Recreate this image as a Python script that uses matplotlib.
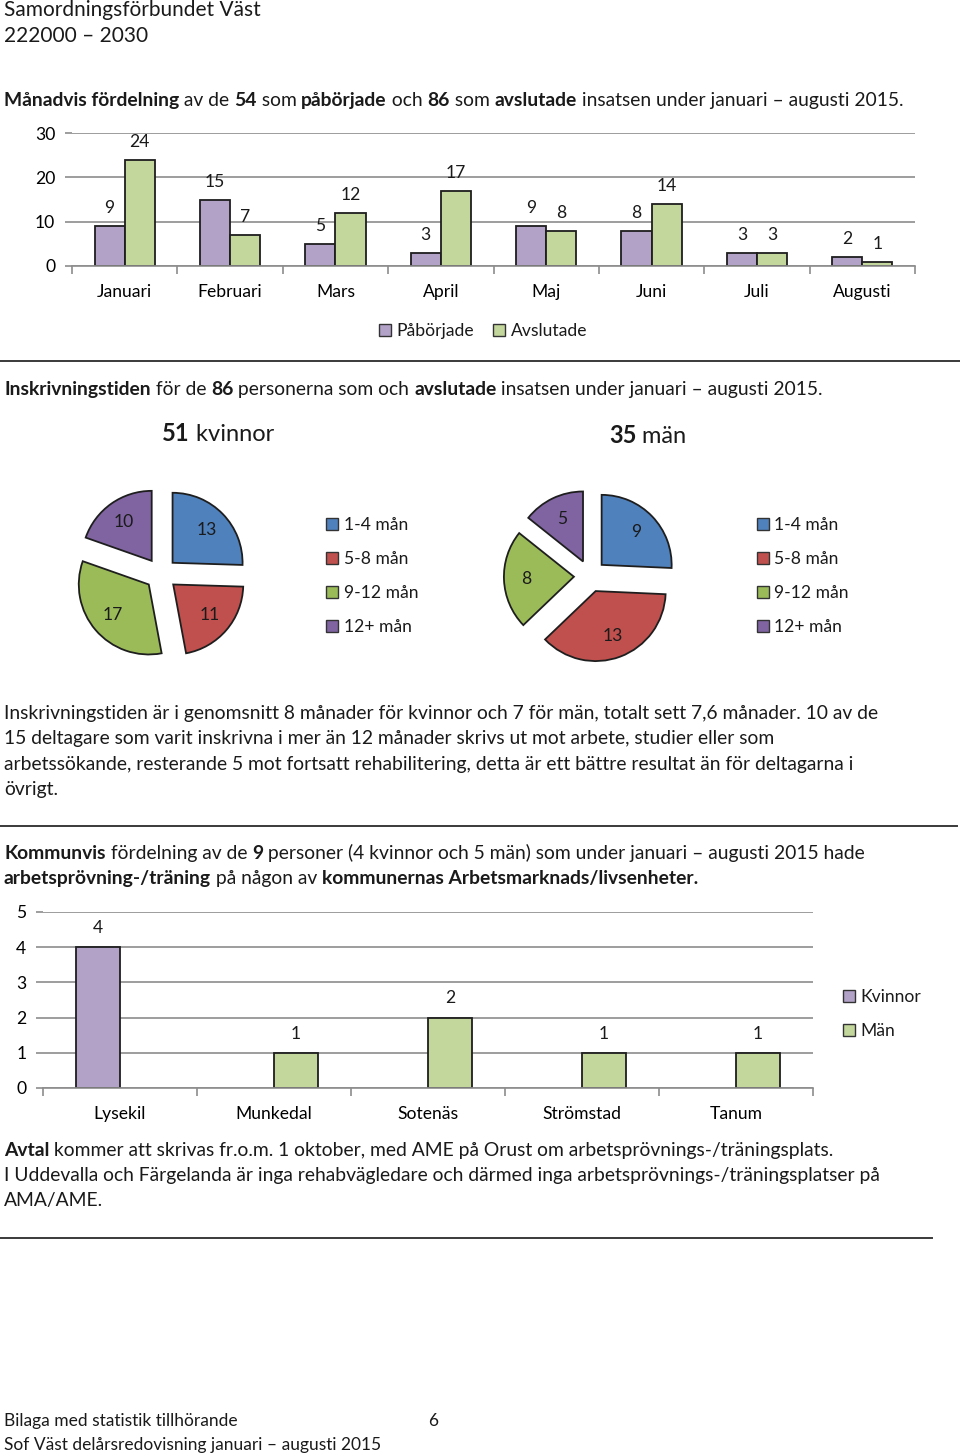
import numpy as np
import matplotlib
matplotlib.use('Agg')
import matplotlib.pyplot as plt
from matplotlib.patches import Patch
from matplotlib.lines import Line2D

plt.rcParams['font.family'] = ['Lato', 'DejaVu Sans']
plt.rcParams['text.color'] = '#1a1a1a'

# --- data ---
months = ['Januari', 'Februari', 'Mars', 'April', 'Maj', 'Juni', 'Juli', 'Augusti']
paborjade = [9, 15, 5, 3, 9, 8, 3, 2]
avslutade = [24, 7, 12, 17, 8, 14, 3, 1]

tid_labels = ['1-4 mån', '5-8 mån', '9-12 mån', '12+ mån']
tid_kvinnor = [13, 11, 17, 10]
tid_man = [9, 13, 8, 5]

kommuner = ['Lysekil', 'Munkedal', 'Sotenäs', 'Strömstad', 'Tanum']
kom_kvinnor = [4, 0, 0, 0, 0]
kom_man = [0, 1, 2, 1, 1]

PURPLE_L = '#b3a2c7'
GREEN_L = '#c3d69b'
PIE_COLS = ['#4f81bd', '#c0504d', '#9bbb59', '#8064a2']
GRID = '#8c8c8c'
EDGE = '#1e1e1e'
FS = 12.6      # chart text
BODY = 13.9    # paragraph text

W, H = 960, 1455
fig = plt.figure(figsize=(W / 100, H / 100), dpi=100)
renderer = fig.canvas.get_renderer()


def box(l, t, r, b):
    return [l / W, 1 - b / H, (r - l) / W, (b - t) / H]


def text_w(s, size, bold):
    t = fig.text(0, 0, s, fontsize=size, fontweight='bold' if bold else 'normal')
    w = t.get_window_extent(renderer).width
    t.remove()
    return w


def rich(x, y, parts, size=BODY):
    # y is the baseline in pixels from the top
    for s, b in parts:
        fig.text(x / W, 1 - y / H, s, fontsize=size, va='baseline', ha='left',
                 fontweight='bold' if b else 'normal')
        x += text_w(s + '|', size, b) - text_w('|', size, b)


def hline(y, x1):
    fig.add_artist(Line2D([0, x1 / W], [1 - y / H, 1 - y / H], transform=fig.transFigure,
                          color='#3a3a3a', lw=1.4))


def style_bar_ax(ax, n, ymax, step):
    ax.set_xlim(-0.5, n - 0.5)
    ax.set_ylim(0, ymax)
    ax.set_yticks(np.arange(0, ymax + 1, step))
    ax.yaxis.grid(True, color=GRID, lw=1.2)
    ax.set_axisbelow(True)
    for sp in ['top', 'right', 'left']:
        ax.spines[sp].set_visible(False)
    ax.spines['bottom'].set_color(GRID)
    ax.spines['bottom'].set_linewidth(1.2)
    ax.set_xticks(np.arange(-0.5, n, 1))
    ax.set_xticklabels([])
    ax.tick_params(axis='x', which='major', length=6, color=GRID, width=1.2)
    ax.tick_params(axis='y', length=5, color=GRID, width=1.2, labelsize=FS, pad=7)


# --- header ---
fig.text(4 / W, 1 - 10 / H, 'Samordningsförbundet Väst', fontsize=15, va='center')
fig.text(4 / W, 1 - 36 / H, '222000 – 2030', fontsize=15, va='center')

rich(4, 106, [('Månadvis fördelning', True), (' av de ', False), ('54', True), (' som ', False),
              ('påbörjade', True), (' och ', False), ('86', True), (' som ', False),
              ('avslutade', True), (' insatsen under januari – augusti 2015.', False)])

# --- monthly bar chart ---
ax1 = fig.add_axes(box(72, 133, 915, 266))
x = np.arange(len(months))
bw = 0.286
b1 = ax1.bar(x - bw / 2, paborjade, bw, color=PURPLE_L, edgecolor=EDGE, lw=1.3)
b2 = ax1.bar(x + bw / 2, avslutade, bw, color=GREEN_L, edgecolor=EDGE, lw=1.3)
ax1.bar_label(b1, padding=7, fontsize=FS)
ax1.bar_label(b2, padding=7, fontsize=FS)
style_bar_ax(ax1, len(months), 30, 10)
ax1.set_xticks(x, minor=True)
ax1.set_xticklabels(months, minor=True, fontsize=FS)
ax1.tick_params(axis='x', which='minor', length=0, pad=13)

fig.legend([Patch(facecolor=PURPLE_L, edgecolor='#333333'), Patch(facecolor=GREEN_L, edgecolor='#333333')],
           ['Påbörjade', 'Avslutade'], loc='center', bbox_to_anchor=(483 / W, 1 - 331 / H), ncol=2,
           frameon=False, fontsize=FS, handlelength=0.7, handleheight=0.7, handletextpad=0.3,
           columnspacing=1.1, borderpad=0)

hline(361, 960)

# --- pies ---
rich(4, 395, [('Inskrivningstiden', True), (' för de ', False), ('86', True),
              (' personerna som och ', False), ('avslutade', True),
              (' insatsen under januari – augusti 2015.', False)])
rich(162, 441, [('51', True), (' kvinnor', False)], size=17)
rich(609, 443, [('35', True), (' män', False)], size=17)


def pie_ax(cx, cy, vals):
    ax = fig.add_axes(box(cx - 110, cy - 110, cx + 110, cy + 110))
    tot = sum(vals)
    ax.pie(vals, colors=PIE_COLS, startangle=90, counterclock=False, explode=[0.23] * len(vals),
           wedgeprops=dict(edgecolor=EDGE, linewidth=1.3),
           autopct=lambda p: '%d' % round(p * tot / 100), pctdistance=0.68,
           textprops=dict(fontsize=FS, color='#1a1a1a'))
    ax.set_xlim(-110 / 70, 110 / 70)
    ax.set_ylim(-110 / 70, 110 / 70)
    ax.set_aspect('equal')
    ax.axis('off')


pie_ax(161, 574, tid_kvinnor)
pie_ax(590, 576, tid_man)

pie_handles = [Patch(facecolor=c, edgecolor='#333333') for c in PIE_COLS]
for lx, ly in [(326, 517), (757, 517)]:
    fig.legend(pie_handles, tid_labels, loc='upper left', bbox_to_anchor=(lx / W, 1 - ly / H),
               frameon=False, fontsize=FS, handlelength=0.7, handleheight=0.7, handletextpad=0.3,
               labelspacing=1.03, borderpad=0, borderaxespad=0)

para = ['Inskrivningstiden är i genomsnitt 8 månader för kvinnor och 7 för män, totalt sett 7,6 månader. 10 av de',
        '15 deltagare som varit inskrivna i mer än 12 månader skrivs ut mot arbete, studier eller som',
        'arbetssökande, resterande 5 mot fortsatt rehabilitering, detta är ett bättre resultat än för deltagarna i',
        'övrigt.']
for i, line in enumerate(para):
    rich(4, 719 + i * 25.3, [(line, False)])

hline(826, 957)

# --- municipality bar chart ---
rich(4, 859, [('Kommunvis', True), (' fördelning av de ', False), ('9', True),
              (' personer (4 kvinnor och 5 män) som under januari – augusti 2015 hade', False)])
rich(4, 884, [('arbetsprövning-/träning', True), (' på någon av ', False),
              ('kommunernas Arbetsmarknads/livsenheter.', True)])

ax2 = fig.add_axes(box(43, 912, 813, 1088))
x2 = np.arange(len(kommuner))
kv = np.array(kom_kvinnor)
mn = np.array(kom_man)
bk = ax2.bar(x2[kv > 0] - bw / 2, kv[kv > 0], bw, color=PURPLE_L, edgecolor=EDGE, lw=1.3)
bm = ax2.bar(x2[mn > 0] + bw / 2, mn[mn > 0], bw, color=GREEN_L, edgecolor=EDGE, lw=1.3)
ax2.bar_label(bk, padding=8, fontsize=FS)
ax2.bar_label(bm, padding=8, fontsize=FS)
style_bar_ax(ax2, len(kommuner), 5, 1)
ax2.set_xticks(x2, minor=True)
ax2.set_xticklabels(kommuner, minor=True, fontsize=FS)
ax2.tick_params(axis='x', which='minor', length=0, pad=13)

fig.legend([Patch(facecolor=PURPLE_L, edgecolor='#333333'), Patch(facecolor=GREEN_L, edgecolor='#333333')],
           ['Kvinnor', 'Män'], loc='upper left', bbox_to_anchor=(843 / W, 1 - 989 / H),
           frameon=False, fontsize=FS, handlelength=0.7, handleheight=0.7, handletextpad=0.3,
           labelspacing=1.03, borderpad=0, borderaxespad=0)

rich(4, 1156, [('Avtal', True), (' kommer att skrivas fr.o.m. 1 oktober, med AME på Orust om arbetsprövnings-/träningsplats.', False)])
rich(4, 1181, [('I Uddevalla och Färgelanda är inga rehabvägledare och därmed inga arbetsprövnings-/träningsplatser på', False)])
rich(4, 1206, [('AMA/AME.', False)])

hline(1238, 932)

# --- footer ---
rich(4, 1426, [('Bilaga med statistik tillhörande', False)], size=12.5)
rich(428, 1426, [('6', False)], size=12.5)
rich(4, 1450, [('Sof Väst delårsredovisning januari – augusti 2015', False)], size=12.5)

fig.savefig('out.png', dpi=100)
